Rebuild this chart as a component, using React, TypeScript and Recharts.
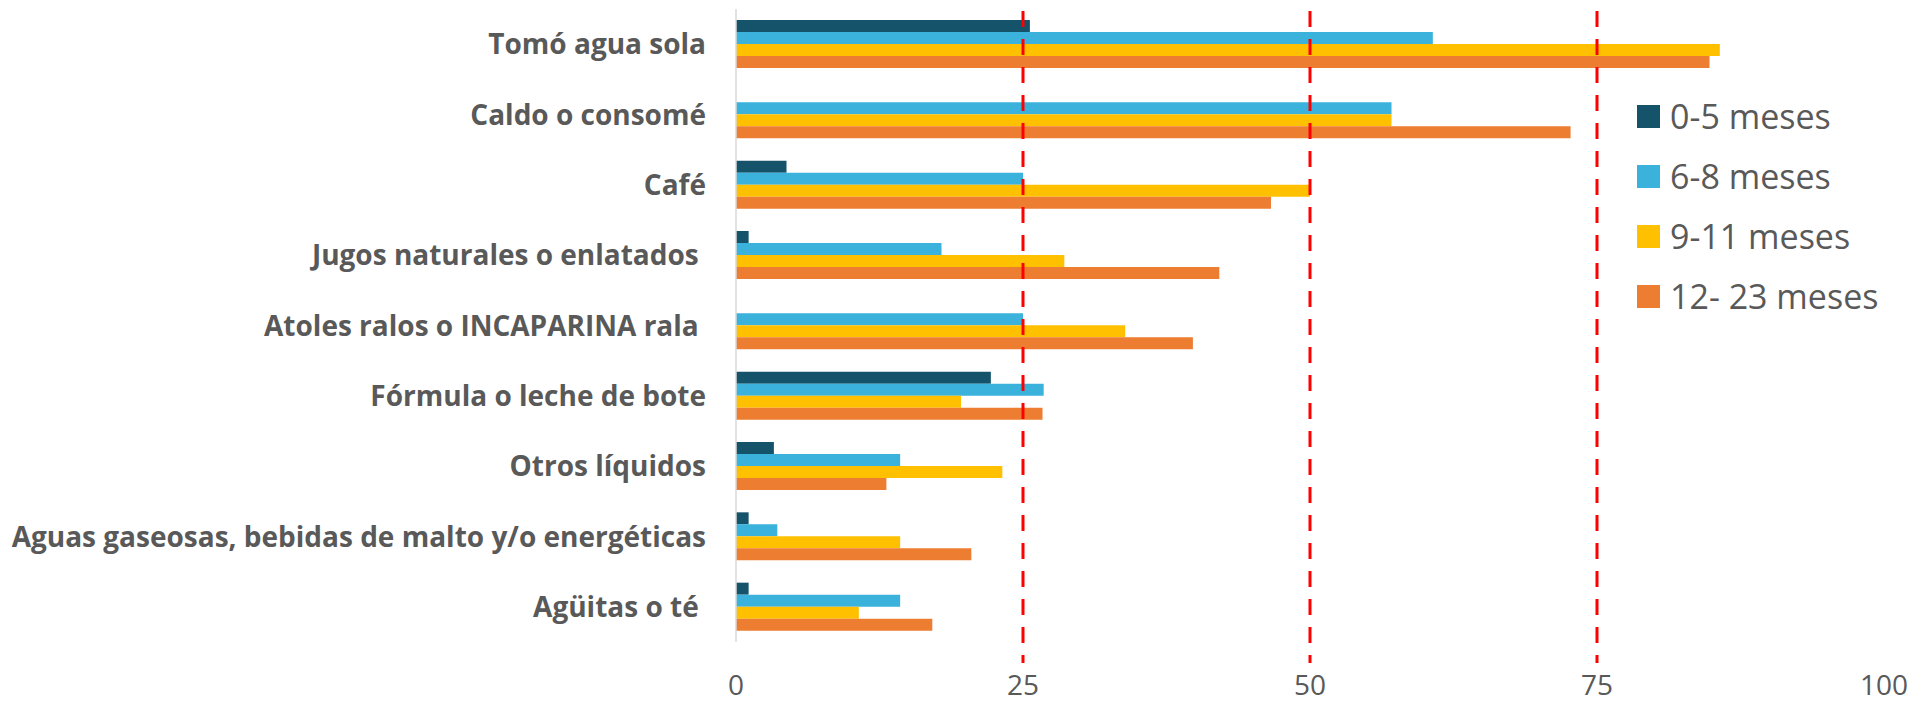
import { BarChart, Bar, XAxis, YAxis, ReferenceLine } from "recharts";

const categories = [
  "Tomó agua sola",
  "Caldo o consomé",
  "Café",
  "Jugos naturales o enlatados ",
  "Atoles ralos o INCAPARINA rala ",
  "Fórmula o leche de bote",
  "Otros líquidos",
  "Aguas gaseosas, bebidas de malto y/o energéticas",
  "Agüitas o té ",
];

const meses0a5 = [25.6, 0, 4.4, 1.1, 0, 22.2, 3.3, 1.1, 1.1];
const meses6a8 = [60.7, 57.1, 25.0, 17.9, 25.0, 26.8, 14.3, 3.6, 14.3];
const meses9a11 = [85.7, 57.1, 50.0, 28.6, 33.9, 19.6, 23.2, 14.3, 10.7];
const meses12a23 = [84.8, 72.7, 46.6, 42.1, 39.8, 26.7, 13.1, 20.5, 17.1];

const seriesKeys = ["m0_5", "m6_8", "m9_11", "m12_23"];
const seriesNames = ["0-5 meses", "6-8 meses", "9-11 meses", "12- 23 meses"];
const seriesColors = ["#15536A", "#3AB2DB", "#FFC000", "#ED7D31"];

const xTicks = [0, 25, 50, 75, 100];
const refLines = [25, 50, 75];

const data = categories.map((name, i) => ({
  name,
  m0_5: meses0a5[i],
  m6_8: meses6a8[i],
  m9_11: meses9a11[i],
  m12_23: meses12a23[i],
}));

const FONT = "'Open Sans', sans-serif";
const GREY = "#595959";

const CategoryTick = ({ x, y, payload }: any) => (
  <text
    x={x}
    y={y}
    dy={10}
    textAnchor="end"
    fill={GREY}
    fontSize={28}
    fontWeight={700}
    fontFamily={FONT}
    xmlSpace="preserve"
    style={{ whiteSpace: "pre" }}
  >
    {payload.value}
  </text>
);

// dashed red lines run a bit past the bottom of the plot
const DashedLine = ({ x1, x2, y1, y2 }: any) => {
  const top = Math.min(y1, y2);
  const bottom = Math.max(y1, y2);
  return (
    <line
      x1={x1}
      x2={x2}
      y1={top + 2}
      y2={bottom + 21}
      stroke="#FF0000"
      strokeWidth={3}
      strokeDasharray="16 12"
    />
  );
};

export default function App() {
  return (
    <div
      style={{
        position: "absolute",
        left: 0,
        top: 0,
        width: 1909,
        height: 702,
        background: "#fff",
      }}
    >
      <BarChart
        width={1909}
        height={702}
        data={data}
        layout="vertical"
        margin={{ top: 9, right: 25, bottom: 0, left: 0 }}
        barSize={12}
        barGap={0}
      >
        <XAxis
          type="number"
          domain={[0, 100]}
          ticks={xTicks}
          axisLine={false}
          tickLine={false}
          tickSize={0}
          tickMargin={33}
          height={60}
          tick={{ fontSize: 28, fill: GREY, fontFamily: FONT }}
        />
        <YAxis
          type="category"
          dataKey="name"
          width={736}
          axisLine={{ stroke: "#D9D9D9", strokeWidth: 1.5 }}
          tickLine={false}
          tickSize={0}
          tickMargin={30}
          interval={0}
          tick={<CategoryTick />}
        />
        {seriesKeys.map((k, i) => (
          <Bar
            key={k}
            dataKey={k}
            name={seriesNames[i]}
            fill={seriesColors[i]}
            isAnimationActive={false}
          />
        ))}
        {refLines.map((v) => (
          <ReferenceLine key={v} x={v} shape={<DashedLine />} />
        ))}
      </BarChart>
      <div
        style={{
          position: "absolute",
          left: 1637,
          top: 86,
          fontFamily: FONT,
        }}
      >
        {seriesNames.map((n, i) => (
          <div
            key={n}
            style={{ display: "flex", alignItems: "center", height: 60 }}
          >
            <span
              style={{
                width: 23,
                height: 23,
                background: seriesColors[i],
                display: "inline-block",
                marginRight: 10,
              }}
            />
            <span style={{ fontSize: 34, color: GREY, whiteSpace: "pre" }}>
              {n}
            </span>
          </div>
        ))}
      </div>
    </div>
  );
}
